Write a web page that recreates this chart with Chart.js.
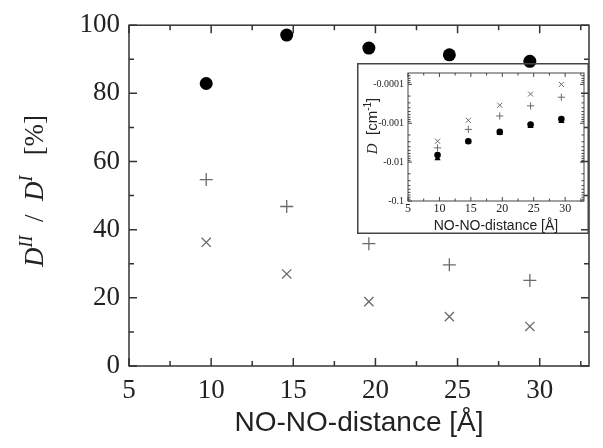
<!DOCTYPE html>
<html>
<head>
<meta charset="utf-8">
<title>D ratio vs NO-NO distance</title>
<script src="https://cdn.jsdelivr.net/npm/chart.js@4.4.0/dist/chart.umd.min.js"></script>
<style>
  html, body { margin: 0; padding: 0; background: #fff; }
  #wrap { position: relative; width: 603px; height: 448px; }
  #mainChart { position: absolute; left: 0; top: 0; }
  #insetChart { position: absolute; left: 357px; top: 63px; }
</style>
</head>
<body>
<div id="wrap">
  <canvas id="mainChart" width="603" height="448"></canvas>
  <canvas id="insetChart" width="232" height="171"></canvas>
</div>
<script>
// --- Data ---
const distances = [9.7, 14.6, 19.6, 24.5, 29.4];

// main plot: D^II / D^I in %
const ratioCircle = [82.9, 97.1, 93.3, 91.3, 89.4];
const ratioPlus = [54.7, 46.8, 35.9, 29.7, 25.1];
const ratioCross = [36.3, 27.0, 18.9, 14.5, 11.6];

// inset: D in cm^-1 (negative, plotted on a log axis by magnitude)
const dTriangle = [-0.0080, -0.0030, -0.0018, -0.00119, -0.00088];
const dCircle = [-0.0066, -0.0029, -0.00167, -0.00108, -0.00078];
const dPlus = [-0.0043, -0.00144, -0.00065, -0.000357, -0.000214];
const dCross = [-0.0029, -0.00084, -0.000345, -0.000177, -0.0001];

// tick labels
const mainXTicks = [5, 10, 15, 20, 25, 30];
const mainYTicks = [0, 20, 40, 60, 80, 100];
const insetXTicks = [5, 10, 15, 20, 25, 30];
const insetYTicks = [-0.0001, -0.001, -0.01, -0.1];

const SERIF = '"Liberation Serif", "DejaVu Serif", serif';
const SANS = '"Liberation Sans", Arial, sans-serif';
const GREY = '#6a6a6a';

Chart.defaults.animation = false;

// Frame round the plot area plus inward ticks on all four sides
const frameTicks = {
    id: 'frameTicks',
    afterDatasetsDraw(chart, args, opts) {
        const { ctx, chartArea: a, scales: { x, y } } = chart;
        ctx.save();
        ctx.strokeStyle = opts.color;
        ctx.lineWidth = opts.lineWidth;
        ctx.beginPath();
        const xTick = (v, len) => {
            const px = x.getPixelForValue(v);
            ctx.moveTo(px, a.bottom); ctx.lineTo(px, a.bottom - len);
            ctx.moveTo(px, a.top); ctx.lineTo(px, a.top + len);
        };
        const yTick = (v, len) => {
            const py = y.getPixelForValue(v);
            ctx.moveTo(a.left, py); ctx.lineTo(a.left + len, py);
            ctx.moveTo(a.right, py); ctx.lineTo(a.right - len, py);
        };
        opts.xMajor.forEach(v => xTick(v, opts.major));
        opts.xMinor.forEach(v => xTick(v, opts.minor));
        opts.yMajor.forEach(v => yTick(v, opts.major));
        opts.yMinor.forEach(v => yTick(v, opts.minor));
        ctx.stroke();
        ctx.strokeRect(a.left, a.top, a.right - a.left, a.bottom - a.top);
        if (opts.outer) {
            ctx.lineWidth = opts.outer;
            ctx.strokeRect(opts.outer / 2, opts.outer / 2,
                chart.width - opts.outer, chart.height - opts.outer);
        }
        ctx.restore();
    }
};

// Rotated axis title made of pieces (italic symbols, superscripts)
const richTitle = {
    id: 'richTitle',
    afterDraw(chart, args, opts) {
        const ctx = chart.ctx;
        ctx.save();
        ctx.fillStyle = opts.color;
        ctx.textBaseline = 'alphabetic';
        let total = 0;
        opts.pieces.forEach(p => {
            ctx.font = p.font;
            p.w = ctx.measureText(p.text).width;
            total += p.w;
        });
        ctx.translate(opts.x, opts.y);
        ctx.rotate(-Math.PI / 2);
        let cx = -total / 2;
        opts.pieces.forEach(p => {
            ctx.font = p.font;
            ctx.fillText(p.text, cx, (p.dy || 0));
            cx += p.w;
        });
        ctx.restore();
    }
};

const range = (from, to, step) => {
    const out = [];
    for (let v = from; v <= to + 1e-9; v += step) out.push(v);
    return out;
};

function initMainChart() {
    const ctx = document.getElementById('mainChart').getContext('2d');
    const pts = arr => distances.map((d, i) => ({ x: d, y: arr[i] }));

    new Chart(ctx, {
        type: 'scatter',
        data: {
            datasets: [
                { data: pts(ratioCircle), pointStyle: 'circle', pointRadius: 6.5,
                  backgroundColor: '#000', borderColor: '#000', borderWidth: 0 },
                { data: pts(ratioPlus), pointStyle: 'cross', pointRadius: 6.5,
                  borderColor: GREY, borderWidth: 1.3 },
                { data: pts(ratioCross), pointStyle: 'crossRot', pointRadius: 6.5,
                  borderColor: GREY, borderWidth: 1.3 }
            ]
        },
        options: {
            responsive: false,
            layout: { padding: { top: 20, right: 14, left: 0, bottom: 0 } },
            plugins: {
                legend: { display: false },
                tooltip: { enabled: false },
                frameTicks: {
                    color: '#333', lineWidth: 1.5, major: 8, minor: 5,
                    xMajor: mainXTicks, xMinor: range(7.5, 32.5, 5),
                    yMajor: mainYTicks, yMinor: range(10, 90, 20)
                },
                richTitle: {
                    color: '#222', x: 43, y: 191,
                    pieces: [
                        { text: 'D', font: 'italic 27px ' + SERIF },
                        { text: 'II', font: 'italic 18px ' + SERIF, dy: -11 },
                        { text: '  /  ', font: '27px ' + SERIF },
                        { text: 'D', font: 'italic 27px ' + SERIF },
                        { text: 'I', font: 'italic 18px ' + SERIF, dy: -11 },
                        { text: '   [%]', font: '27px ' + SERIF }
                    ]
                }
            },
            scales: {
                x: {
                    type: 'linear', min: 5, max: 33,
                    afterBuildTicks: s => { s.ticks = mainXTicks.map(v => ({ value: v })); },
                    afterFit: s => { s.height = 82; },
                    grid: { display: false, drawTicks: false },
                    border: { display: false },
                    ticks: { color: '#222', padding: 9, font: { family: SERIF, size: 27 } },
                    title: {
                        display: true, text: 'NO-NO-distance [Å]', color: '#222',
                        font: { family: SANS, size: 28 }, padding: { top: 0, bottom: 8 }
                    }
                },
                y: {
                    type: 'linear', min: 0, max: 100,
                    afterBuildTicks: s => { s.ticks = mainYTicks.map(v => ({ value: v })); },
                    afterFit: s => { s.width = 129; },
                    grid: { display: false, drawTicks: false },
                    border: { display: false },
                    ticks: { color: '#222', padding: 9, font: { family: SERIF, size: 27 } }
                }
            }
        },
        plugins: [frameTicks, richTitle]
    });
}

function initInsetChart() {
    const ctx = document.getElementById('insetChart').getContext('2d');
    const pts = arr => distances.map((d, i) => ({ x: d, y: Math.abs(arr[i]) }));

    // log minor ticks 2..9 in every decade
    const logMinor = [];
    [1e-4, 1e-3, 1e-2].forEach(dec => {
        for (let k = 2; k <= 9; k++) logMinor.push(k * dec);
    });
    [6e-5, 7e-5, 8e-5, 9e-5].forEach(v => logMinor.push(v));

    new Chart(ctx, {
        type: 'scatter',
        data: {
            datasets: [
                { data: pts(dTriangle), pointStyle: 'triangle', pointRadius: 3.6,
                  backgroundColor: '#000', borderColor: '#000', borderWidth: 0 },
                { data: pts(dCircle), pointStyle: 'circle', pointRadius: 3.3,
                  backgroundColor: '#000', borderColor: '#000', borderWidth: 0 },
                { data: pts(dPlus), pointStyle: 'cross', pointRadius: 3.6,
                  borderColor: GREY, borderWidth: 1 },
                { data: pts(dCross), pointStyle: 'crossRot', pointRadius: 3.6,
                  borderColor: GREY, borderWidth: 1 }
            ]
        },
        options: {
            responsive: false,
            layout: { padding: { top: 5, right: 3, left: 0, bottom: 0 } },
            plugins: {
                legend: { display: false },
                tooltip: { enabled: false },
                frameTicks: {
                    color: '#444', lineWidth: 1, major: 4, minor: 2.5, outer: 1.5,
                    xMajor: insetXTicks, xMinor: range(7.5, 32.5, 2.5).filter(v => v % 5 !== 0),
                    yMajor: insetYTicks.map(v => Math.abs(v)), yMinor: logMinor
                },
                richTitle: {
                    color: '#222', x: 20, y: 63,
                    pieces: [
                        { text: 'D', font: 'italic 15px ' + SERIF },
                        { text: '  [cm', font: '15px ' + SANS },
                        { text: '-1', font: '10px ' + SANS, dy: -6 },
                        { text: ']', font: '15px ' + SANS }
                    ]
                }
            },
            scales: {
                x: {
                    type: 'linear', min: 5, max: 33,
                    afterBuildTicks: s => { s.ticks = insetXTicks.map(v => ({ value: v })); },
                    afterFit: s => { s.height = 33; },
                    grid: { display: false, drawTicks: false },
                    border: { display: false },
                    ticks: { color: '#222', padding: 1, font: { family: SERIF, size: 12 } },
                    title: {
                        display: true, text: 'NO-NO-distance [Å]', color: '#222',
                        font: { family: SANS, size: 14, lineHeight: 1 }, padding: { top: 0, bottom: 1 }
                    }
                },
                y: {
                    type: 'logarithmic', min: 5.1e-5, max: 0.1, reverse: true,
                    afterBuildTicks: s => { s.ticks = insetYTicks.map(v => ({ value: Math.abs(v) })); },
                    afterFit: s => { s.width = 51; },
                    grid: { display: false, drawTicks: false },
                    border: { display: false },
                    ticks: {
                        color: '#222', padding: 4, font: { family: SERIF, size: 10 },
                        callback: (v, i) => String(insetYTicks[i])
                    }
                }
            }
        },
        plugins: [frameTicks, richTitle]
    });
}

document.addEventListener('DOMContentLoaded', () => {
    initMainChart();
    initInsetChart();
});
</script>
</body>
</html>
